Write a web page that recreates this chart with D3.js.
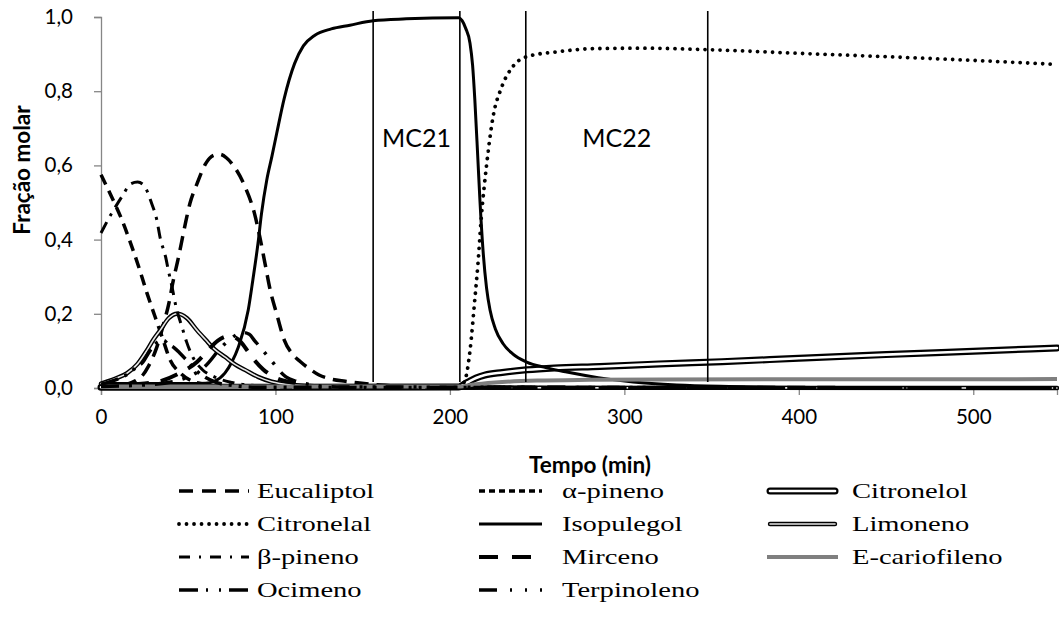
<!DOCTYPE html>
<html>
<head>
<meta charset="utf-8">
<script src="https://cdn.jsdelivr.net/npm/d3@7"></script>
<style>
  body { margin: 0; background: #fff; }
  svg { display: block; }
</style>
</head>
<body>
<svg id="chart" width="1059" height="619"></svg>
<script>
// Fração molar de cada componente ao longo do tempo: pares [tempo (min), fração]
const eucaliptol = [[0,0.003],[10,0.006],[15,0.01],[20,0.02],[24,0.035],[27,0.057],[32,0.11],[36,0.175],[39,0.23],[41,0.28],[44.5,0.354],[48,0.435],[51,0.498],[55,0.55],[60,0.605],[65,0.628],[68,0.63],[72,0.62],[75,0.605],[82.5,0.543],[88,0.47],[91,0.408],[94,0.336],[97,0.264],[100.7,0.2],[105,0.13],[110,0.09],[114,0.072],[120,0.05],[125,0.035],[131,0.025],[140,0.018],[147,0.014],[160,0.008],[180,0.004],[205,0.002],[250,0.001],[548,0]];
const alfaPineno = [[0,0.575],[6,0.516],[12,0.453],[17,0.39],[21.6,0.327],[26.4,0.255],[31,0.192],[35,0.138],[39.7,0.075],[45.5,0.04],[53,0.017],[60,0.01],[70,0.006],[90,0.003],[120,0.002],[548,0]];
const citronelol = [[0,0.002],[100,0.002],[205,0.003],[210,0.015],[215,0.027],[220,0.035],[230,0.042],[244,0.049],[260,0.054],[286,0.058],[320,0.065],[356,0.071],[400,0.08],[450,0.09],[500,0.099],[548,0.108]];
const citronelal = [[205,0.001],[206,0.005],[208.6,0.02],[211.5,0.1],[214.3,0.24],[216,0.33],[218,0.46],[221,0.6],[224.7,0.73],[229.6,0.81],[236,0.866],[244,0.893],[261,0.906],[284,0.915],[310,0.916],[348,0.912],[400,0.902],[450,0.893],[500,0.883],[548,0.872]];
const isopulegol = [[0,0.012],[30,0.012],[50,0.012],[60,0.013],[65,0.018],[71,0.04],[75,0.07],[78.7,0.11],[84.4,0.21],[87,0.29],[90,0.39],[92,0.47],[95,0.56],[98,0.625],[100.7,0.686],[105,0.78],[111,0.875],[116,0.922],[122.6,0.951],[132,0.968],[142.7,0.978],[156,0.99],[175,0.995],[205,0.998],[207,0.99],[209,0.97],[211.5,0.93],[213,0.87],[214.3,0.776],[216,0.62],[217.2,0.507],[219,0.37],[221,0.27],[223,0.21],[226,0.16],[230.4,0.12],[236,0.092],[244,0.07],[255,0.055],[267,0.043],[285,0.028],[305,0.016],[330,0.008],[360,0.004],[420,0.001],[548,0]];
const limoneno = [[0,0.012],[8,0.025],[15,0.04],[21,0.065],[26.4,0.102],[30,0.13],[34,0.156],[38.8,0.188],[43.6,0.2],[46,0.198],[49.3,0.188],[55,0.156],[60,0.13],[65,0.105],[71,0.084],[77,0.063],[82.5,0.049],[90,0.03],[97.8,0.017],[110,0.008],[130,0.003],[160,0.001],[548,0]];
const betaPineno = [[0,0.418],[6,0.47],[12,0.516],[17,0.55],[21,0.555],[24.5,0.547],[29,0.498],[32,0.453],[34,0.403],[37,0.354],[38.8,0.313],[40.7,0.273],[43,0.219],[46.4,0.165],[49,0.125],[53,0.08],[58,0.05],[65,0.03],[75,0.015],[90,0.006],[110,0.002],[548,0]];
const mirceno = [[0,0.006],[20,0.01],[35,0.02],[45,0.04],[55,0.07],[61,0.1],[67,0.128],[73,0.14],[77,0.136],[80,0.125],[84,0.1],[88,0.075],[93,0.05],[100,0.028],[110,0.014],[120,0.006],[140,0.002],[548,0]];
const eCariofileno = [[0,0.004],[205,0.004],[215,0.01],[230,0.016],[250,0.02],[280,0.022],[320,0.023],[548,0.024]];
const ocimeno = [[0,0.01],[10,0.025],[16,0.04],[20,0.055],[24,0.07],[28,0.1],[33,0.125],[36,0.128],[38,0.12],[42,0.108],[45,0.095],[50,0.07],[55,0.045],[60,0.028],[66,0.015],[75,0.007],[90,0.002],[548,0]];
const terpinoleno = [[0,0.004],[30,0.01],[50,0.03],[60,0.06],[69,0.11],[75,0.135],[81,0.15],[85,0.145],[88,0.128],[93,0.1],[98,0.072],[102,0.048],[106,0.03],[112,0.018],[120,0.009],[135,0.003],[548,0]];

// Nomes das séries, na ordem da legenda (linha a linha, três por linha)
const nomes = ["Eucaliptol", "α-pineno", "Citronelol", "Citronelal", "Isopulegol", "Limoneno",
               "β-pineno", "Mirceno", "E-cariofileno", "Ocimeno", "Terpinoleno"];
const valores = [eucaliptol, alfaPineno, citronelol, citronelal, isopulegol, limoneno,
                 betaPineno, mirceno, eCariofileno, ocimeno, terpinoleno];

// Limites das regiões de operação (min) e seus rótulos
const fronteiras = [156, 205.7, 243.5, 347.8];
const regioes = ["MC21", "MC22"];

const xTicks = [0, 100, 200, 300, 400, 500];
const yTicks = [0, 0.2, 0.4, 0.6, 0.8, 1.0];

// Aparência de cada série: camadas de traço desenhadas em sequência
const estilos = {
  "Eucaliptol":    { layers: [{ c: "#000", w: 3.5, d: "14,8" }], legend: "14,9" },
  "α-pineno":      { layers: [{ c: "#000", w: 3.5, d: "11,7" }], legend: "6,4" },
  "Citronelol":    { layers: [{ c: "#000", w: 7 }, { c: "#fff", w: 2.6 }], cap: "round" },
  "Citronelal":    { layers: [{ c: "#000", w: 3.8, d: "0.01,7.5" }], cap: "round" },
  "Isopulegol":    { layers: [{ c: "#000", w: 3 }] },
  "Limoneno":      { layers: [{ c: "#000", w: 4.4 }, { c: "#e6e6e6", w: 1.6 }], cap: "round" },
  "β-pineno":      { layers: [{ c: "#000", w: 3, d: "12,7,3,7" }], legend: "11,9,2,9" },
  "Mirceno":       { layers: [{ c: "#000", w: 4, d: "18,12" }], legend: "19,14" },
  "E-cariofileno": { layers: [{ c: "#7f7f7f", w: 4 }] },
  "Ocimeno":       { layers: [{ c: "#000", w: 3.5, d: "18,7,3,7,3,7" }], legend: "19,8,2,11,2,8" },
  "Terpinoleno":   { layers: [{ c: "#000", w: 3.5, d: "18,10,3,10,3,10" }], legend: "18,13,2,13,2,13" }
};

const svg = d3.select("#chart");
const x = d3.scaleLinear().domain([0, 548]).range([101, 1057]);
const y = d3.scaleLinear().domain([0, 1]).range([388, 17]);

const font = "Lato, 'Open Sans', sans-serif";
const axisColor = "#868686";
const virgula = d3.formatLocale({ decimal: ",", thousands: ".", grouping: [3], currency: ["", ""] });

// Eixo Y
const yAxis = svg.append("g").attr("transform", `translate(${x(0)},0)`)
  .call(d3.axisLeft(y).tickValues(yTicks).tickSize(7).tickPadding(21).tickFormat(virgula.format(".1f")));
yAxis.select(".domain").attr("stroke", axisColor).attr("stroke-width", 1.3);
yAxis.selectAll(".tick line").attr("stroke", axisColor).attr("stroke-width", 1.3);
yAxis.selectAll(".tick text").attr("font-family", font).attr("font-size", 20.5).attr("fill", "#000");

// Eixo X
const xAxis = svg.append("g").attr("transform", `translate(0,${y(0)})`)
  .call(d3.axisBottom(x).tickValues(xTicks).tickSize(7).tickPadding(14).tickFormat(d3.format("d")));
xAxis.select(".domain").attr("stroke", axisColor).attr("stroke-width", 1.3);
xAxis.selectAll(".tick line").attr("stroke", axisColor).attr("stroke-width", 1.3);
xAxis.selectAll(".tick text").attr("font-family", font).attr("font-size", 20.5).attr("fill", "#000");

// Títulos dos eixos
svg.append("text").attr("x", 590).attr("y", 473).attr("text-anchor", "middle")
  .attr("font-family", font).attr("font-weight", "bold").attr("font-size", 22.5).text("Tempo (min)");
svg.append("text").attr("transform", "translate(30,170) rotate(-90)").attr("text-anchor", "middle")
  .attr("font-family", font).attr("font-weight", "bold").attr("font-size", 22.5).text("Fração molar");

// Curvas
const line = d3.line().x(d => x(d[0])).y(d => y(d[1])).curve(d3.curveMonotoneX);
const curvas = svg.append("g");
nomes.forEach((nome, i) => {
  const st = estilos[nome];
  st.layers.forEach(l => {
    curvas.append("path").datum(valores[i])
      .attr("d", line).attr("fill", "none")
      .attr("stroke", l.c).attr("stroke-width", l.w)
      .attr("stroke-dasharray", l.d || null)
      .attr("stroke-linecap", st.cap || "butt")
      .attr("stroke-linejoin", "round");
  });
});

// Linhas verticais que separam as regiões
svg.append("g").selectAll("line").data(fronteiras).join("line")
  .attr("x1", d => x(d)).attr("x2", d => x(d))
  .attr("y1", y(1.016)).attr("y2", y(0.016))
  .attr("stroke", "#000").attr("stroke-width", 1.6);

// Rótulos das regiões, centrados entre as fronteiras
svg.append("g").selectAll("text").data(regioes).join("text")
  .attr("x", (d, i) => x((fronteiras[2 * i] + fronteiras[2 * i + 1]) / 2))
  .attr("y", y(0.65))
  .attr("text-anchor", "middle")
  .attr("font-family", font).attr("font-size", 25).attr("fill", "#000")
  .text(d => d);

// Legenda em três colunas
const colSample = [179, 479, 767];
const colLen = [70, 63, 71];
const colText = [257, 562, 852];
const rowY = [491, 524, 557, 590];
const leg = svg.append("g");
nomes.forEach((nome, i) => {
  const col = i % 3, row = Math.floor(i / 3);
  const st = estilos[nome];
  const y0 = rowY[row];
  st.layers.forEach(l => {
    const round = st.cap === "round" && st.layers.length > 1;
    leg.append("line")
      .attr("x1", colSample[col] + (round ? 3 : 0)).attr("x2", colSample[col] + colLen[col] - (round ? 3 : 0))
      .attr("y1", y0).attr("y2", y0)
      .attr("stroke", l.c).attr("stroke-width", l.w)
      .attr("stroke-dasharray", st.legend || l.d || null)
      .attr("stroke-linecap", st.cap || "butt");
  });
  leg.append("text")
    .attr("transform", `translate(${colText[col]},${y0 + 7}) scale(1.36,1)`)
    .attr("font-family", "'Liberation Serif', 'Times New Roman', serif")
    .attr("font-size", 21).attr("fill", "#000")
    .text(nome);
});
</script>
</body>
</html>
